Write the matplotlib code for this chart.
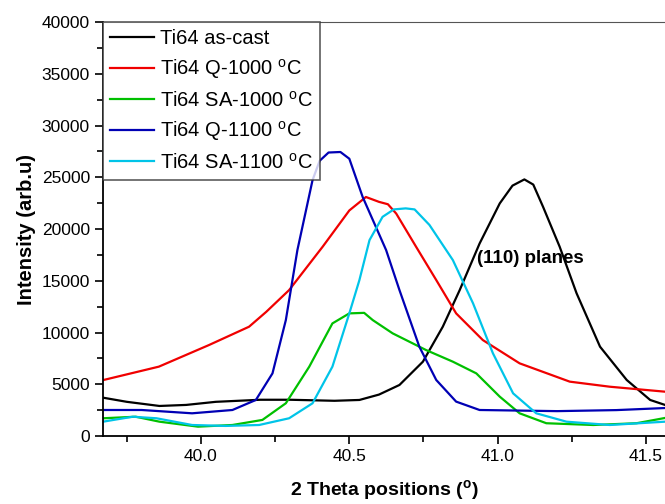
import matplotlib.pyplot as plt
from matplotlib.ticker import MultipleLocator, FormatStrFormatter

plt.rcParams['font.family'] = ['Liberation Sans', 'DejaVu Sans']

# as-cast
x_cast = [39.67, 39.75, 39.86, 39.95, 40.05, 40.2, 40.3, 40.45, 40.534, 40.6, 40.669, 40.748, 40.815, 40.872,
          40.939, 41.007, 41.05, 41.09, 41.12, 41.153, 41.209, 41.266, 41.345, 41.435, 41.514, 41.564]
y_cast = [3700, 3300, 2900, 3000, 3300, 3500, 3500, 3400, 3480, 4000, 4930, 7180, 10560, 14100,
          18600, 22480, 24200, 24800, 24300, 22150, 18290, 13790, 8630, 5410, 3480, 3000]

# Q-1000
x_q1000 = [39.67, 39.858, 40.027, 40.162, 40.22, 40.297, 40.41, 40.5, 40.556, 40.6, 40.63, 40.658, 40.725,
           40.793, 40.86, 40.95, 41.074, 41.243, 41.378, 41.564]
y_q1000 = [5400, 6700, 8790, 10560, 12000, 14100, 18290, 21800, 23100, 22630, 22400, 21500, 18290,
           15070, 11850, 9270, 7020, 5250, 4760, 4280]

# SA-1000
x_sa1000 = [39.67, 39.78, 39.86, 39.99, 40.106, 40.207, 40.286, 40.365, 40.443, 40.5, 40.55, 40.579,
            40.646, 40.759, 40.849, 40.928, 41.007, 41.074, 41.164, 41.322, 41.468, 41.564]
y_sa1000 = [1710, 1860, 1380, 900, 1060, 1550, 3160, 6700, 10880, 11850, 11900, 11200,
            9920, 8300, 7180, 6050, 3800, 2190, 1230, 1060, 1230, 1740]

# Q-1100
x_q1100 = [39.67, 39.80, 39.97, 40.106, 40.185, 40.241, 40.286, 40.325, 40.376, 40.40, 40.43, 40.47, 40.50,
           40.545, 40.624, 40.669, 40.736, 40.793, 40.86, 40.939, 41.2, 41.4, 41.564]
y_q1100 = [2510, 2510, 2190, 2510, 3480, 6050, 11200, 17970, 24730, 26600, 27400, 27450, 26800,
           23100, 17970, 14100, 8630, 5410, 3320, 2510, 2400, 2500, 2700]

# SA-1100
x_sa1100 = [39.67, 39.77, 39.85, 39.97, 40.083, 40.196, 40.297, 40.376, 40.443, 40.5, 40.534, 40.568,
            40.612, 40.65, 40.69, 40.72, 40.77, 40.849, 40.917, 40.984, 41.052, 41.13, 41.232, 41.378, 41.564]
y_sa1100 = [1380, 1860, 1710, 1060, 970, 1060, 1710, 3160, 6700, 11850, 15070, 18930,
            21180, 21900, 22000, 21900, 20400, 17000, 12820, 7990, 4120, 2190, 1380, 1060, 1380]

fig = plt.figure(figsize=(6.65, 5.04), dpi=100)
ax = fig.add_axes([0.155, 0.135, 0.845, 0.821])

lw = 1.6
ax.plot(x_cast, y_cast, color='black', lw=lw, label='Ti64 as-cast')
ax.plot(x_q1000, y_q1000, color='#f00000', lw=lw, label='Ti64 Q-1000 $^{\\mathregular{o}}$C')
ax.plot(x_sa1000, y_sa1000, color='#00c000', lw=lw, label='Ti64 SA-1000 $^{\\mathregular{o}}$C')
ax.plot(x_q1100, y_q1100, color='#0000b4', lw=lw, label='Ti64 Q-1100 $^{\\mathregular{o}}$C')
ax.plot(x_sa1100, y_sa1100, color='#00c4e8', lw=lw, label='Ti64 SA-1100 $^{\\mathregular{o}}$C')

ax.text(41.11, 17200, '(110) planes', fontsize=13.5, fontweight='bold', ha='center', va='center')

ax.set_xlim(39.67, 41.564)
ax.set_ylim(0, 40000)
ax.xaxis.set_major_locator(MultipleLocator(0.5))
ax.xaxis.set_minor_locator(MultipleLocator(0.25))
ax.xaxis.set_major_formatter(FormatStrFormatter('%.1f'))
ax.yaxis.set_major_locator(MultipleLocator(5000))
ax.yaxis.set_minor_locator(MultipleLocator(2500))
ax.tick_params(which='both', direction='out', labelsize=12.5, width=1.2)
ax.tick_params(which='major', length=6)
ax.tick_params(which='minor', length=4)

ax.spines['right'].set_visible(False)
ax.spines['top'].set_color('#555555')
ax.spines['left'].set_linewidth(1.3)
ax.spines['bottom'].set_linewidth(1.3)

ax.set_xlabel('2 Theta positions ($^{\\mathregular{o}}$)', fontsize=14, fontweight='bold', labelpad=10)
ax.set_ylabel('Intensity (arb.u)', fontsize=14.5, fontweight='bold', labelpad=4)

leg = ax.legend(loc='upper left', fontsize=14.5, borderaxespad=0, frameon=True, fancybox=False,
                handlelength=2.2, labelspacing=0.45, borderpad=0.35, handletextpad=0.3)
leg.get_frame().set_edgecolor('#333333')
leg.get_frame().set_linewidth(1.2)

fig.savefig('out.png', dpi=100)
